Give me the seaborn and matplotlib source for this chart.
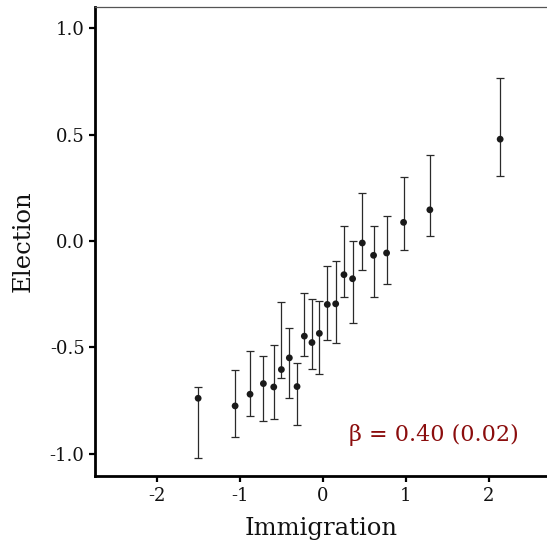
import matplotlib
matplotlib.use("Agg")
import matplotlib.pyplot as plt
import seaborn as sns
import pandas as pd
import numpy as np

immigration = [-1.506, -1.060, -0.880, -0.719, -0.594, -0.502, -0.406, -0.313,
               -0.225, -0.133, -0.044, 0.052, 0.153, 0.253, 0.357, 0.474,
               0.610, 0.767, 0.972, 1.289, 2.137]
election = [-0.739, -0.775, -0.720, -0.670, -0.686, -0.604, -0.549, -0.684,
            -0.447, -0.477, -0.434, -0.298, -0.295, -0.158, -0.177, -0.009,
            -0.067, -0.056, 0.088, 0.147, 0.479]
upper = [-0.687, -0.605, -0.518, -0.541, -0.488, -0.285, -0.409, -0.573,
         -0.246, -0.272, -0.284, -0.118, -0.093, 0.069, 0.000, 0.227,
         0.071, 0.118, 0.301, 0.403, 0.766]
lower = [-1.021, -0.922, -0.822, -0.844, -0.836, -0.646, -0.737, -0.867,
         -0.538, -0.602, -0.624, -0.464, -0.481, -0.264, -0.384, -0.138,
         -0.264, -0.202, -0.041, 0.025, 0.307]
x_ticks = [-2, -1, 0, 1, 2]
y_ticks = [-1.0, -0.5, 0.0, 0.5, 1.0]
annotation = "β = 0.40 (0.02)"

df = pd.DataFrame({"Immigration": immigration, "Election": election,
                   "upper": upper, "lower": lower})

sns.set_theme(style="ticks")
plt.rcParams["font.family"] = ["DejaVu Serif"]

fig = plt.figure(figsize=(5.47, 5.46), dpi=100)
ax = fig.add_axes([0.1737, 0.128, 0.826, 0.859])

yerr = np.vstack([df["Election"] - df["lower"], df["upper"] - df["Election"]])
ax.errorbar(df["Immigration"], df["Election"], yerr=yerr, fmt="none",
            ecolor="#2a2a2a", elinewidth=0.9, capsize=2.6, capthick=0.9, zorder=2)
sns.scatterplot(data=df, x="Immigration", y="Election", ax=ax, color="#1a1a1a",
                s=24, edgecolor="none", zorder=3)

ax.set_xlim(-2.75, 2.70)
ax.set_ylim(-1.105, 1.10)
ax.set_xticks(x_ticks)
ax.set_xticklabels([str(t) for t in x_ticks])
ax.set_yticks(y_ticks)
ax.set_yticklabels([f"{t:.1f}" for t in y_ticks])
ax.tick_params(axis="both", labelsize=13, width=1.6, length=4, color="black",
               labelcolor="#111111")
ax.set_xlabel("Immigration", fontsize=17.5, color="#111111", labelpad=9)
ax.set_ylabel("Election", fontsize=17.5, color="#111111", labelpad=11)

for s in ["left", "bottom"]:
    ax.spines[s].set_linewidth(2.0)
    ax.spines[s].set_color("black")
ax.spines["top"].set_linewidth(0.9)
ax.spines["top"].set_color("#555555")
ax.spines["right"].set_visible(False)

ax.text(1.34, -0.913, annotation, fontsize=16, color="#8b0d0d",
        ha="center", va="center")

fig.savefig("out.png", dpi=100)
